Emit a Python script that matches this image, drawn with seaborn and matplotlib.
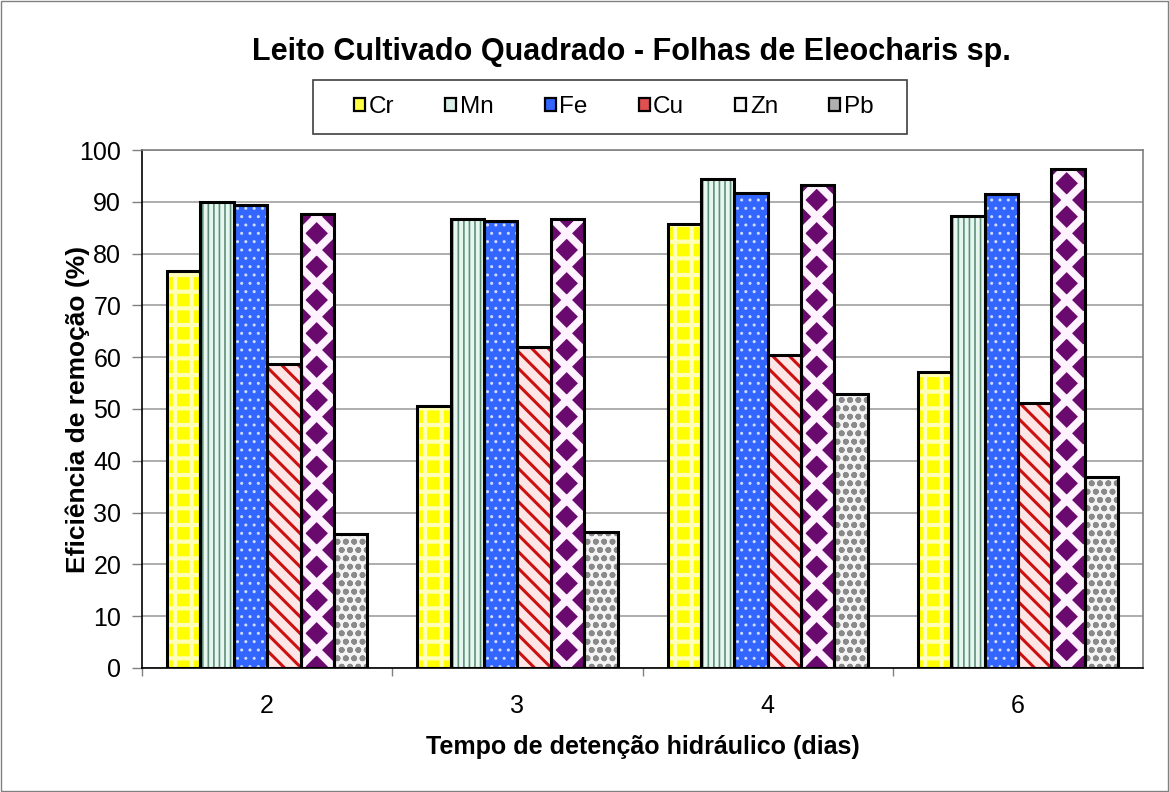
import matplotlib
matplotlib.use('Agg')
import matplotlib.pyplot as plt
import seaborn as sns
import pandas as pd
from matplotlib.patches import Patch, Rectangle
from matplotlib.ticker import FixedLocator

# ---- data ----
tempos = ['2', '3', '4', '6']
metais = ['Cr', 'Mn', 'Fe', 'Cu', 'Zn', 'Pb']
cr = [76.6, 50.5, 85.7, 57.2]
mn = [89.9, 86.7, 94.4, 87.3]
fe = [89.3, 86.3, 91.7, 91.5]
cu = [58.6, 61.9, 60.5, 51.1]
zn = [87.6, 86.7, 93.2, 96.4]
pb = [25.8, 26.3, 52.8, 36.8]
yticks = [0, 10, 20, 30, 40, 50, 60, 70, 80, 90, 100]

valores = {'Cr': cr, 'Mn': mn, 'Fe': fe, 'Cu': cu, 'Zn': zn, 'Pb': pb}
rows = []
for m in metais:
    for t, v in zip(tempos, valores[m]):
        rows.append({'tempo': t, 'metal': m, 'valor': v})
df = pd.DataFrame(rows)

# ---- styles ----
face = {'Cr': '#ffff00', 'Mn': '#e6f7f0', 'Fe': '#3366ff', 'Cu': '#ffe6e6',
        'Zn': '#6a0a6e', 'Pb': '#f4f4f4'}
hatchc = {'Cr': '#ffffb8', 'Mn': '#5f8f7c', 'Fe': '#d0dcff', 'Cu': '#cc1111',
          'Zn': '#fdf2fd', 'Pb': '#8a8a8a'}
hatches = {'Cr': '+', 'Mn': '|||', 'Fe': '..', 'Cu': '\\\\', 'Zn': 'x', 'Pb': 'oo'}
hatchlw = {'Cr': 3.0, 'Mn': 1.2, 'Fe': 1.0, 'Cu': 2.2, 'Zn': 5.5, 'Pb': 1.8}
legface = {'Cr': '#ffff44', 'Mn': '#d8efe6', 'Fe': '#3366ff', 'Cu': '#e05050',
           'Zn': '#f8f8f8', 'Pb': '#b0b0b0'}

sns.set_theme(style='white')
plt.rcParams['font.family'] = ['Liberation Sans', 'DejaVu Sans']
plt.rcParams['text.color'] = 'black'
plt.rcParams['axes.labelcolor'] = 'black'

fig = plt.figure(figsize=(11.69, 7.92), dpi=100)
ax = fig.add_axes([0.1215, 0.1566, 0.8563, 0.6540])

sns.barplot(data=df, x='tempo', y='valor', hue='metal', order=tempos,
            hue_order=metais, palette=face, width=0.8, errorbar=None,
            saturation=1, linewidth=0, legend=False, ax=ax, zorder=2)
for m, cont in zip(metais, ax.containers):
    for bar in cont:
        bar.set_hatch(hatches[m])
        bar.set_edgecolor(hatchc[m])
        bar.set_linewidth(0)
        if hasattr(bar, 'set_hatch_linewidth'):
            bar.set_hatch_linewidth(hatchlw[m])

sns.barplot(data=df, x='tempo', y='valor', hue='metal', order=tempos,
            hue_order=metais, palette={m: 'black' for m in metais}, width=0.8,
            errorbar=None, saturation=1, fill=False, linewidth=2.2,
            legend=False, ax=ax, zorder=3)

ax.set_ylim(0, 100)
ax.set_xlim(-0.5, 3.5)
ax.set_yticks(yticks)
ax.set_yticklabels([str(v) for v in yticks], fontsize=18)
ax.set_xticks(range(len(tempos)))
ax.set_xticklabels(tempos, fontsize=18)
ax.xaxis.set_minor_locator(FixedLocator([-0.5, 0.5, 1.5, 2.5]))
ax.tick_params(axis='x', which='major', length=0, pad=19, labelcolor='black')
ax.tick_params(axis='x', which='minor', length=6, width=1, color='#808080',
               direction='out', bottom=True)
ax.tick_params(axis='y', length=7, width=1, color='#808080', direction='out',
               left=True, pad=8, labelcolor='black')
ax.yaxis.grid(True, color='#a0a0a0', linewidth=1.2, zorder=0)
ax.set_axisbelow(True)
for s in ['left', 'bottom']:
    ax.spines[s].set_color('black')
    ax.spines[s].set_linewidth(1.2)
for s in ['top', 'right']:
    ax.spines[s].set_color('#808080')
    ax.spines[s].set_linewidth(1.2)

ax.set_xlabel('Tempo de detenção hidráulico (dias)', fontsize=18,
              fontweight='bold', labelpad=12)
ax.set_ylabel('Eficiência de remoção (%)', fontsize=19, fontweight='bold')
ax.yaxis.set_label_coords(-0.064, 0.5)
ax.yaxis.label.set_va('center')

fig.text(0.540, 0.934, 'Leito Cultivado Quadrado - Folhas de Eleocharis sp.',
         fontsize=22, fontweight='bold', ha='center', va='center')

handles = [Patch(facecolor=legface[m], edgecolor='black', linewidth=1.6,
                 label=m) for m in metais]
leg = fig.legend(handles=handles, loc='center', ncol=6,
                 bbox_to_anchor=(0.525, 0.8649), fontsize=17.5,
                 frameon=False, handlelength=0.45, handleheight=0.45,
                 handletextpad=0.15, columnspacing=2.1, borderaxespad=0)

# legend box frame
fig.patches.append(Rectangle((313 / 1169, 1 - 134 / 792), 594 / 1169,
                             54 / 792, transform=fig.transFigure, fill=False,
                             edgecolor='#404040', linewidth=1.2))
# outer figure border
fig.patches.append(Rectangle((0.001, 0.001), 0.998, 0.998,
                             transform=fig.transFigure, fill=False,
                             edgecolor='#808080', linewidth=1))

fig.savefig('out.png', dpi=100)
